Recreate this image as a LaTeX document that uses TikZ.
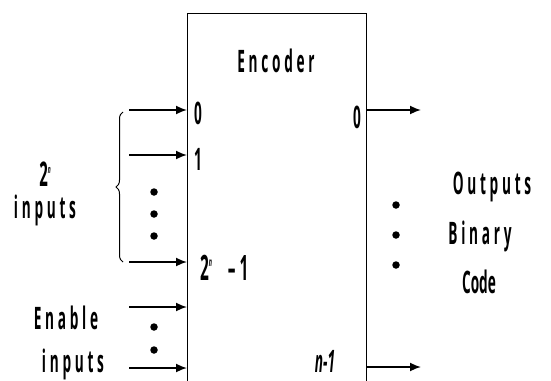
\documentclass[tikz,border=0pt]{standalone}
\usepackage{fontspec}
\setmainfont{Open Sans}[FakeStretch=0.44]
\newfontfamily\spaced{Open Sans}[FakeStretch=0.44, LetterSpace=12]
\usetikzlibrary{arrows.meta, positioning, decorations.pathreplacing, calc}

\begin{document}
\begin{tikzpicture}[x=1pt, y=-1pt, font=\fontsize{31}{33}\selectfont\bfseries,
  arr/.style={line width=1.7pt, -{Latex[length=11pt,width=9pt]}},
  dot/.style={circle, fill, inner sep=0pt, minimum size=7.5pt},
  lbl/.style={inner sep=1pt}]
\useasboundingbox (0,0) rectangle (551,380);
\clip (0,0) rectangle (551,380);
% the encoder block, open at the bottom
\node[draw, line width=1.3pt, minimum width=179pt, minimum height=430pt, anchor=north west] (enc) at (187,13) {};
\node[lbl] (title) at (276,61) {\spaced\bfseries Encoder};

% input lines
\foreach \y/\n in {110/a, 155/b, 262/c, 307/d, 368/e}{
  \coordinate (in\n) at (129,\y);
  \draw[arr] (in\n) -- (in\n -| enc.west);
}
\node[lbl, anchor=west] (i0) at (193,113) {0};
\node[lbl, anchor=west] (i1) at (193,159) {1};
\node[lbl, anchor=west] (ilast) at (199,268) {\fontsize{35}{35}\selectfont 2\raisebox{14pt}{\fontsize{12}{12}\selectfont\itshape n}\,\, – 1};
\foreach \y in {192,214,236,327,350}
  \node[dot] at (154,\y) {};

% brace over the 2^n data inputs
\draw[decorate, decoration={brace, amplitude=7pt}, line width=1pt] (123,262) -- (123,112);
\node[lbl] (cnt) at (45,174) {\fontsize{34}{34}\selectfont 2\raisebox{13pt}{\fontsize{11}{11}\selectfont\itshape n}};
\node[lbl, below=6pt of cnt] (cntlbl) {\spaced\bfseries inputs};
\node[lbl] (en) at (66,318) {\spaced\bfseries Enable};
\node[lbl] (enlbl) at (73,364) {\spaced\bfseries inputs};

% output lines
\foreach \y/\n in {110/a, 367/b}{
  \coordinate (out\n) at (421,\y);
  \draw[arr] (out\n -| enc.east) -- (out\n);
}
\node[lbl, anchor=east] (o0) at (362,117) {0};
\node[lbl] (olast) at (325,361) {\itshape n-1};
\foreach \y in {205,235,265}
  \node[dot] at (396,\y) {};
\node[lbl] (outs) at (492,187) {\spaced\bfseries Outputs};
\node[lbl] (bin) at (480,236) {\spaced\bfseries Binary};
\node[lbl] (code) at (479,282) {Code};
\end{tikzpicture}
\end{document}
